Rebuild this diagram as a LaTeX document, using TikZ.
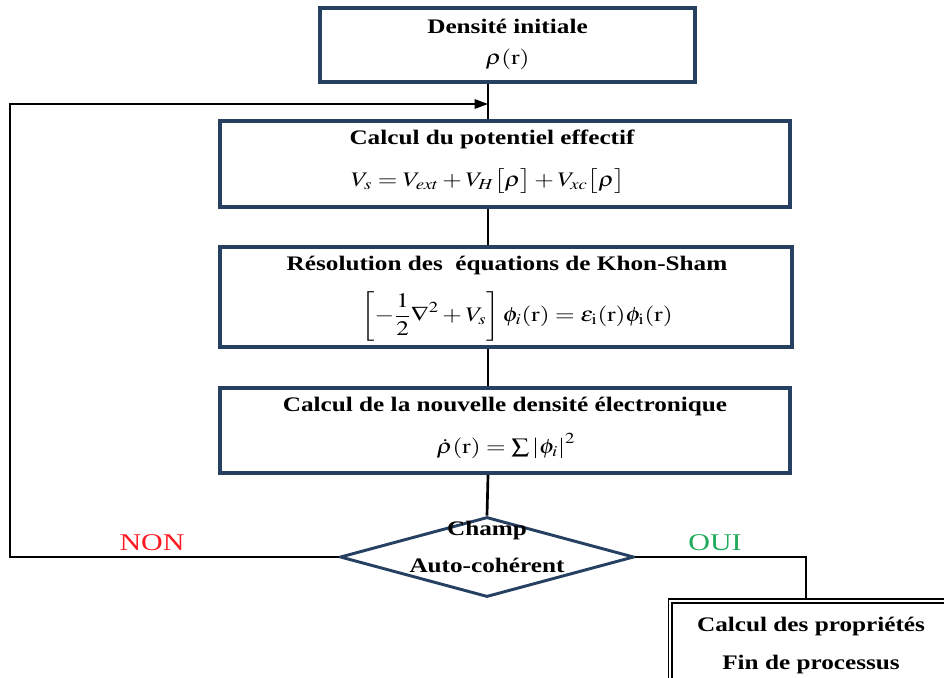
\documentclass[tikz,border=0pt]{standalone}
\usepackage{mathptmx}
\usepackage{fontspec}
\setmainfont{Liberation Serif}
\usetikzlibrary{arrows.meta,shapes.geometric}
\definecolor{bleuCadre}{RGB}{38,64,97}
\definecolor{vertOui}{RGB}{30,170,90}
\definecolor{rougeNon}{RGB}{255,25,35}

\begin{document}
\begin{tikzpicture}[x=0.75pt,y=0.75pt,yscale=-1,xscale=1,
  cadre/.style={draw=bleuCadre,line width=3pt,inner sep=0pt},
  losange/.style={diamond,draw=bleuCadre,line width=2.2pt,inner sep=0pt},
  cadrefin/.style={draw=black,double=white,double distance=1.6pt,line width=1.3pt,inner sep=0pt},
  titre/.style={inner sep=0.75pt,xscale=1.22,font=\fontsize{15.5}{18}\selectfont\bfseries},
  formule/.style={inner sep=0.75pt,xscale=1.22,font=\fontsize{15.5}{18}\selectfont},
  reponse/.style={inner sep=0.75pt,xscale=1.25,font=\fontsize{18}{20}\selectfont},
  lien/.style={line width=2pt},
  boucle/.style={line width=1.4pt}]
\useasboundingbox (0,0) rectangle (944,677);

%Shape: Rectangle [densite]
\path (507.5,45) node[cadre,minimum width=281pt,minimum height=55.5pt] (densite) {};
%Shape: Rectangle [potentiel]
\path (505,164) node[cadre,minimum width=427.5pt,minimum height=64.5pt] (potentiel) {};
%Shape: Rectangle [kohn-sham]
\path (506,297) node[cadre,minimum width=429pt,minimum height=75pt] (kohnsham) {};
%Shape: Rectangle [nouvelle densite]
\path (505,430.5) node[cadre,minimum width=427.5pt,minimum height=63.75pt] (nouvelle) {};
%Shape: Diamond [test]
\path (487,557) node[losange,minimum width=220.5pt,minimum height=60pt] (choix) {};
%Shape: Rectangle [fin]
\path (817,645) node[cadrefin,minimum width=220pt,minimum height=66pt] (finale) {};

\coordinate (axe) at (488,0);
\coordinate (sortie) at (806,0);
\coordinate (retour) at (10,557);
\coordinate (entree) at (488,104);

%Straight Lines
\draw[lien] (densite.south -| axe) -- (potentiel.north -| axe);
%Straight Lines
\draw[lien] (potentiel.south -| axe) -- (kohnsham.north -| axe);
%Straight Lines
\draw[lien] (kohnsham.south -| axe) -- (nouvelle.north -| axe);
%Straight Lines
\draw[lien] (nouvelle.south -| axe) -- (choix.north);
%Straight Lines [NON]
\draw[boucle,-{Triangle[length=10pt,width=7pt]}] (choix.west) -- (retour) |- (entree);
%Straight Lines [OUI]
\draw[lien] (choix.east) -| (finale.north -| sortie);

% Text Node
\path (507.5,26) node[titre] (tDensite) {Densité initiale};
% Text Node
\path (507.5,59) node[formule] (fDensite) {$\rho(\mathrm{r})$};
% Text Node
\path (492,139) node[titre] (tPotentiel) {Calcul du potentiel effectif};
% Text Node
\path (488,181) node[formule] (fPotentiel) {$V_s = V_{ext} + V_H\big[\rho\big] + V_{xc}\big[\rho\big]$};
% Text Node
\path (507,266) node[titre] (tKohnSham) {Résolution des\ \ équations de Khon-Sham};
% Text Node
\path (517,316) node[formule] (fKohnSham) {$\left[-\displaystyle\frac{1}{2}\nabla^2 + V_s\right]\phi_i(\mathrm{r}) = \varepsilon_{\mathrm{i}}(\mathrm{r})\phi_{\mathrm{i}}(\mathrm{r})$};
% Text Node
\path (505,407) node[titre] (tNouvelle) {Calcul de la nouvelle densité électronique};
% Text Node
\path (506,446) node[formule] (fNouvelle) {$\dot{\rho}(\mathrm{r}) = \sum\left|\phi_i\right|^2$};
% Text Node
\path (487,531) node[titre] (tChamp) {Champ};
% Text Node
\path (487,565) node[titre] (tAuto) {Auto-cohérent};
% Text Node
\path (152,543) node[reponse,text=rougeNon] (tNon) {NON};
% Text Node
\path (715,543) node[reponse,text=vertOui] (tOui) {OUI};
% Text Node
\path (811,627) node[titre] (tCalcul) {Calcul des propriétés};
% Text Node
\path (811,665) node[titre] (tFin) {Fin de processus};

\end{tikzpicture}
\end{document}
